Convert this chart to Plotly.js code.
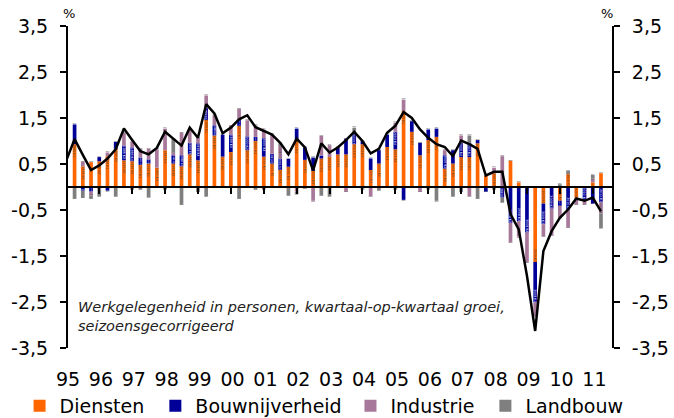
<!DOCTYPE html>
<html><head><meta charset="utf-8">
<script src="https://cdn.plot.ly/plotly-3.0.1.min.js"></script>
<style>html,body{margin:0;padding:0;background:#fff}#chart{width:674px;height:418px}</style>
</head><body><div id="chart"></div>
<script>
// Quarter categories: 1994 K4 (line only) then 1995 K1 .. 2011 K1
const fullYears = [1995,1996,1997,1998,1999,2000,2001,2002,2003,2004,2005,2006,2007,2008,2009,2010];
const quarters = ['1994 K4'];
fullYears.forEach(y => ['K1','K2','K3','K4'].forEach(q => quarters.push(y + ' ' + q)));
quarters.push('2011 K1');

const yearLabels = ['95','96','97','98','99','00','01','02','03','04','05','06','07','08','09','10','11'];
const yTickVals = [-3.5,-2.5,-1.5,-0.5,0.5,1.5,2.5,3.5];
const yTickText = ['-3,5','-2,5','-1,5','-0,5','0,5','1,5','2,5','3,5'];
const seriesNames = ['Diensten', 'Bouwnijverheid', 'Industrie', 'Landbouw'];

const diensten = [null,
 0.93,0.45,0.54,0.56,0.67,0.83,0.58,0.56,0.48,0.51,
 0.42,0.8,0.51,0.45,0.71,0.58,1.46,1.12,0.66,0.76,
 1.33,0.8,1.0,0.66,0.51,0.37,0.44,1.02,0.59,0.35,
 0.62,0.65,0.71,0.71,0.93,0.93,0.37,0.51,0.87,0.82,
 1.65,1.2,0.69,1.02,1.09,0.4,0.51,0.65,0.65,0.95,
 0.24,0.3,0,0.57,0.1,0,-1.63,-0.36,0,-0.3,
 0.28,-0.23,0,0.1,0.3];
const bouw = [null,
 0.43,-0.08,-0.1,0.09,-0.08,0.15,0.32,0.3,0.16,0.09,
 0,0,0.18,0.24,0.25,0.37,0.26,0.22,0.48,0.38,
 0.14,0.3,0.09,0.4,0.21,0.25,0.17,0.25,0.27,0.29,
 0.07,0,0.15,0.34,0.25,0.07,0.25,0.29,0.27,0.38,
 -0.28,0.23,0.27,0.23,0.18,0.29,0.29,0.31,0.31,0.07,
 -0.1,0,-0.23,-0.78,-0.74,-0.99,-0.88,-0.45,-0.47,-0.11,
 -0.51,0,-0.3,-0.36,-0.33];
const industrie = [null,
 0,0.1,-0.08,-0.05,0.08,0,0.28,0.12,0.19,0.23,
 0.4,0.47,0.06,0.49,0.26,0.12,0.27,0.22,0,0.19,
 0.23,0.35,0.25,0.19,0.42,0.27,0,-0.1,0,-0.3,
 0.42,0.26,0,-0.1,0,0,-0.2,0,0,0.2,
 0.25,0,-0.1,0,0,0.11,0,0.16,-0.2,0,
 0,0.12,0.67,-0.42,-0.34,-0.65,-0.29,-0.26,-0.58,-0.26,
 -0.37,-0.15,-0.08,0.08,-0.24];
const landbouw = [null,
 -0.25,-0.15,-0.07,-0.15,0,-0.2,0,-0.05,-0.05,-0.22,
 0,-0.05,0.3,-0.38,0,-0.1,-0.2,0,0,0,
 -0.25,0,-0.05,-0.05,0,0.06,-0.18,-0.05,-0.03,0,
 -0.18,-0.2,0,0,0.11,-0.05,0,-0.07,0,-0.05,
 0,0,0,-0.05,-0.3,0,-0.2,-0.1,0.16,-0.25,
 0,-0.05,-0.1,0,0,0,0,0,0,0.06,
 0.07,0,0,0.08,-0.32];
const totaal = [0.58,
 1.04,0.70,0.37,0.47,0.62,0.82,1.27,1.02,0.78,0.71,
 0.85,1.2,1.05,0.9,1.29,1.07,1.8,1.6,1.17,1.29,
 1.47,1.56,1.3,1.22,1.14,0.96,0.71,1.05,0.86,0.36,
 0.95,0.75,0.86,1.02,1.2,1.0,0.73,0.83,1.18,1.33,
 1.63,1.5,1.25,1.07,0.93,0.87,0.67,1.01,0.93,0.83,
 0.25,0.33,0.33,-0.59,-0.92,-1.93,-3.13,-1.39,-0.96,-0.67,
 -0.49,-0.25,-0.3,-0.23,-0.53];

const xIdx = quarters.map((_, i) => i);
const yearTickPos = yearLabels.map((_, k) => 4 * k + 0.2);
const yearEndPos = fullYears.map((_, k) => 4 * k + 4);

const FONT = 'DejaVu Sans, Verdana, sans-serif';
function bar(name, pad, vals, color) {
  return {type: 'bar', name: name + pad, x: xIdx, y: vals, text: quarters,
          hoverinfo: 'text+y+name', marker: {color: color, line: {width: 0}}};
}
const traces = [
  bar(seriesNames[0], '\u00a0', diensten, '#FF6600'),
  bar(seriesNames[1], '\u2009', bouw, '#000099'),
  bar(seriesNames[2], '\u00a0', industrie, '#A8789A'),
  bar(seriesNames[3], '', landbouw, '#7F7F7F'),
  {type: 'scatter', mode: 'lines', name: 'Totaal', x: xIdx, y: totaal, showlegend: false,
   line: {color: '#000', width: 2.5}},
  {type: 'scatter', mode: 'lines', x: [], y: [], yaxis: 'y2', xaxis: 'x2', showlegend: false, hoverinfo: 'skip'}
];
const xRange = [0.2, 66.34];
const layout = {
  width: 674, height: 418,
  margin: {l: 68, r: 62, t: 26, b: 70, autoexpand: false},
  paper_bgcolor: '#fff', plot_bgcolor: '#fff',
  font: {family: FONT, size: 19, color: '#000'},
  barmode: 'relative', bargap: 0.55,
  showlegend: true,
  legend: {orientation: 'h', x: -0.089, xanchor: 'left', y: -0.18, yanchor: 'middle',
           font: {family: FONT, size: 19, color: '#000'}, traceorder: 'normal'},
  xaxis: {range: xRange, tickmode: 'array', tickvals: yearTickPos, ticktext: yearLabels,
          showline: false, showgrid: false, zeroline: false, ticks: 'outside', ticklen: 14,
          tickcolor: 'rgba(0,0,0,0)', automargin: false, tickfont: {size: 19}},
  xaxis2: {range: xRange, overlaying: 'x', anchor: 'free', position: 0.5, side: 'bottom',
           showline: true, linecolor: '#000', linewidth: 2, tickmode: 'array', tickvals: yearEndPos,
           ticks: 'outside', ticklen: 6, tickwidth: 2, tickcolor: '#000', showticklabels: false,
           showgrid: false, zeroline: false},
  yaxis: {range: [-3.5, 3.5], tickmode: 'array', tickvals: yTickVals, ticktext: yTickText,
          showline: true, linecolor: '#000', linewidth: 2, ticks: 'outside', ticklen: 6, tickwidth: 2,
          tickcolor: '#000', showgrid: false, zeroline: false, automargin: false, ticklabelstandoff: 8},
  yaxis2: {range: [-3.5, 3.5], overlaying: 'y', side: 'right', anchor: 'x', tickmode: 'array',
           tickvals: yTickVals, ticktext: yTickText, showline: true, linecolor: '#000', linewidth: 2,
           ticks: 'outside', ticklen: 6, tickwidth: 2, tickcolor: '#000', showgrid: false,
           zeroline: false, automargin: false, ticklabelstandoff: 8},
  annotations: [
    {xref: 'paper', yref: 'paper', x: 0.015, y: 0.099, xanchor: 'left', yanchor: 'middle', align: 'left',
     showarrow: false, text: '<i>Werkgelegenheid in personen, kwartaal-op-kwartaal groei,<br>seizoensgecorrigeerd</i>',
     font: {family: FONT, size: 14.5, color: '#222'}},
    {xref: 'paper', yref: 'paper', x: 0.002, y: 1.04, xanchor: 'center', yanchor: 'middle', showarrow: false,
     text: '%', font: {family: FONT, size: 13, color: '#000'}},
    {xref: 'paper', yref: 'paper', x: 0.991, y: 1.04, xanchor: 'center', yanchor: 'middle', showarrow: false,
     text: '%', font: {family: FONT, size: 13, color: '#000'}}
  ]
};
Plotly.newPlot('chart', traces, layout, {displayModeBar: false, staticPlot: true});
</script></body></html>
